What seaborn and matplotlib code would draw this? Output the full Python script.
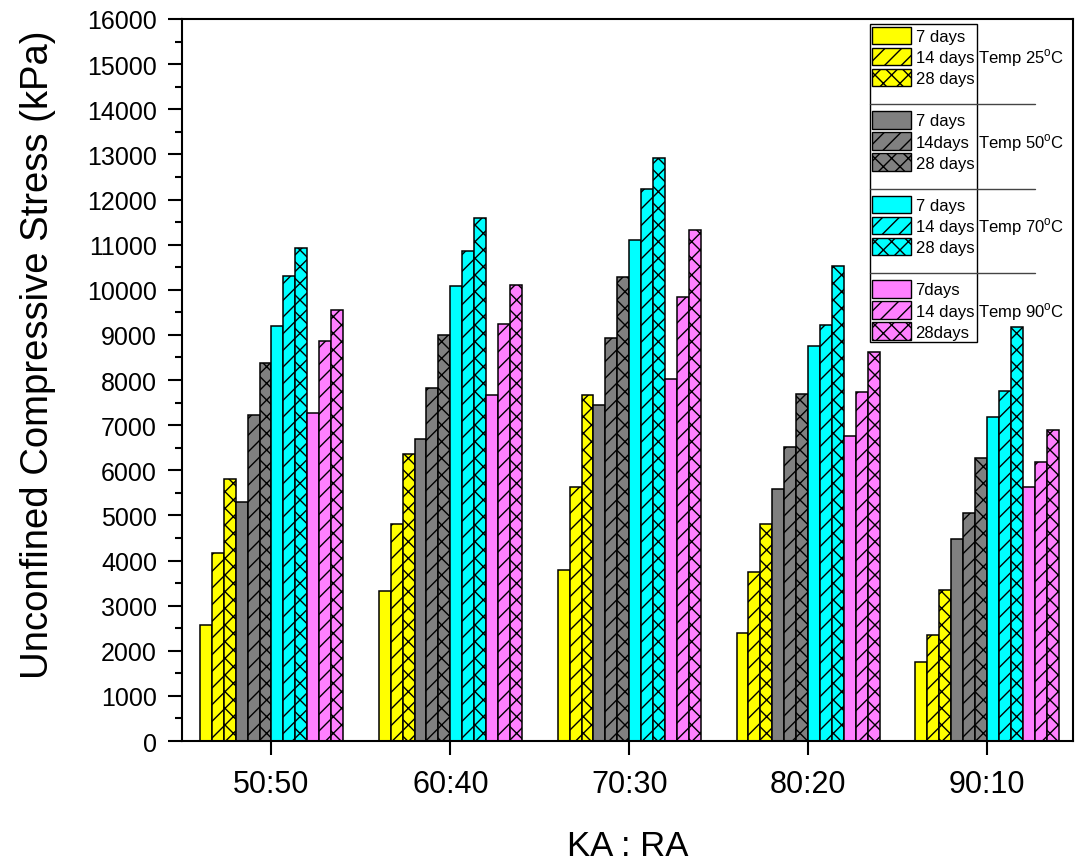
# UCS des mélanges KA:RA selon la température et l'âge de cure
import pandas as pd
import matplotlib.pyplot as plt
import seaborn as sns
from matplotlib.patches import Patch
from matplotlib.lines import Line2D
from matplotlib.ticker import MultipleLocator

# données (kPa)
ratios = ["50:50", "60:40", "70:30", "80:20", "90:10"]
temps = ["25", "50", "70", "90"]
days = ["7", "14", "28"]

t25_7d = [2570, 3330, 3800, 2400, 1750]
t25_14d = [4170, 4810, 5620, 3740, 2350]
t25_28d = [5800, 6360, 7660, 4810, 3350]
t50_7d = [5300, 6700, 7440, 5590, 4470]
t50_14d = [7230, 7820, 8940, 6510, 5050]
t50_28d = [8380, 8990, 10280, 7680, 6270]
t70_7d = [9200, 10090, 11100, 8760, 7190]
t70_14d = [10300, 10850, 12240, 9220, 7760]
t70_28d = [10930, 11600, 12910, 10520, 9170]
t90_7d = [7270, 7660, 8030, 6750, 5630]
t90_14d = [8860, 9240, 9840, 7730, 6190]
t90_28d = [9550, 10110, 11320, 8630, 6900]

series = [t25_7d, t25_14d, t25_28d, t50_7d, t50_14d, t50_28d,
          t70_7d, t70_14d, t70_28d, t90_7d, t90_14d, t90_28d]

legend_labels = ["7 days", "14 days", "28 days",
                 "7 days", "14days", "28 days",
                 "7 days", "14 days", "28 days",
                 "7days", "14 days", "28days"]

temp_colors = ["#FFFF00", "#808080", "#00FFFF", "#FF80FF"]
day_hatches = ["", "//", "xx"]

# tableau long pour seaborn
rows = []
for i, vals in enumerate(series):
    key = f"T{temps[i // 3]}_{days[i % 3]}d"
    for r, v in zip(ratios, vals):
        rows.append({"ratio": r, "serie": key, "ucs": v})
df = pd.DataFrame(rows)
hue_order = list(dict.fromkeys(df["serie"]))
palette = [temp_colors[i // 3] for i in range(len(hue_order))]

sns.set_theme(style="ticks")
plt.rcParams["font.family"] = ["Liberation Sans", "DejaVu Sans"]
plt.rcParams["hatch.linewidth"] = 1.0
plt.rcParams["mathtext.fontset"] = "custom"
plt.rcParams["mathtext.rm"] = "Liberation Sans"
for k in ["text.color", "axes.labelcolor", "xtick.color", "ytick.color"]:
    plt.rcParams[k] = "black"

fig, ax = plt.subplots(figsize=(10.75, 8.62), dpi=100)
fig.subplots_adjust(left=0.1693, right=0.998, top=0.9768, bottom=0.1392)

sns.barplot(data=df, x="ratio", y="ucs", hue="serie", hue_order=hue_order,
            palette=palette, width=0.8, saturation=1, edgecolor="black",
            linewidth=1.1, legend=False, ax=ax)

# hachures selon l'âge
for i, cont in enumerate(ax.containers):
    for bar in cont:
        bar.set_hatch(day_hatches[i % 3])

ax.set_xlim(-0.5, 4.48)
ax.set_ylim(0, 16000)
ax.yaxis.set_major_locator(MultipleLocator(1000))
ax.yaxis.set_minor_locator(MultipleLocator(500))
ax.tick_params(axis="both", which="major", direction="out", length=10, width=1.5)
ax.tick_params(axis="y", which="minor", direction="out", length=5, width=1.5)
ax.tick_params(axis="y", labelsize=18, pad=8)
ax.tick_params(axis="x", labelsize=22, pad=10)
for s in ax.spines.values():
    s.set_visible(True)
    s.set_linewidth(1.5)
    s.set_color("black")

ax.set_ylabel("Unconfined Compressive Stress (kPa)", fontsize=27.5)
ax.yaxis.set_label_coords(-0.141, 0.537)
ax.set_xlabel("KA : RA", fontsize=25, labelpad=22)

# légende groupée par température
handles, labels = [], []
for i, lab in enumerate(legend_labels):
    if i > 0 and i % 3 == 0:
        handles.append(Patch(facecolor="none", edgecolor="none"))
        labels.append("")
    handles.append(Patch(facecolor=temp_colors[i // 3], edgecolor="black",
                         hatch=day_hatches[i % 3], linewidth=1.0))
    labels.append(lab)

leg = ax.legend(handles, labels, loc="upper left", bbox_to_anchor=(0.772, 0.993),
                borderaxespad=0, fontsize=12, handlelength=2.3, handleheight=1.25,
                handletextpad=0.3, labelspacing=0.21, borderpad=0.15,
                frameon=True, fancybox=False, edgecolor="black", framealpha=1)
leg.get_frame().set_linewidth(1.0)

# séparateurs et libellés de température, alignés sur les lignes de la légende
fig.canvas.draw()
renderer = fig.canvas.get_renderer()
inv = ax.transAxes.inverted()
leg_texts = leg.get_texts()
leg_box = inv.transform(leg.get_window_extent(renderer))
x_left, x_right = leg_box[0][0], leg_box[1][0]

for g, t in enumerate(temps):
    bb = leg_texts[g * 4 + 1].get_window_extent(renderer)
    _, ty = inv.transform(((bb.x0 + bb.x1) / 2, (bb.y0 + bb.y1) / 2))
    ax.text(x_right + 0.002, ty, f"Temp {t}$^\\mathrm{{o}}$C", transform=ax.transAxes,
            fontsize=12, va="center", ha="left", zorder=6)
    if g > 0:
        bb = leg_texts[g * 4 - 1].get_window_extent(renderer)
        _, sy = inv.transform(((bb.x0 + bb.x1) / 2, (bb.y0 + bb.y1) / 2))
        ax.add_line(Line2D([x_left, 0.957], [sy, sy], transform=ax.transAxes,
                           color="#444444", linewidth=1.0, clip_on=False, zorder=6))

plt.savefig("out.png", dpi=100)
